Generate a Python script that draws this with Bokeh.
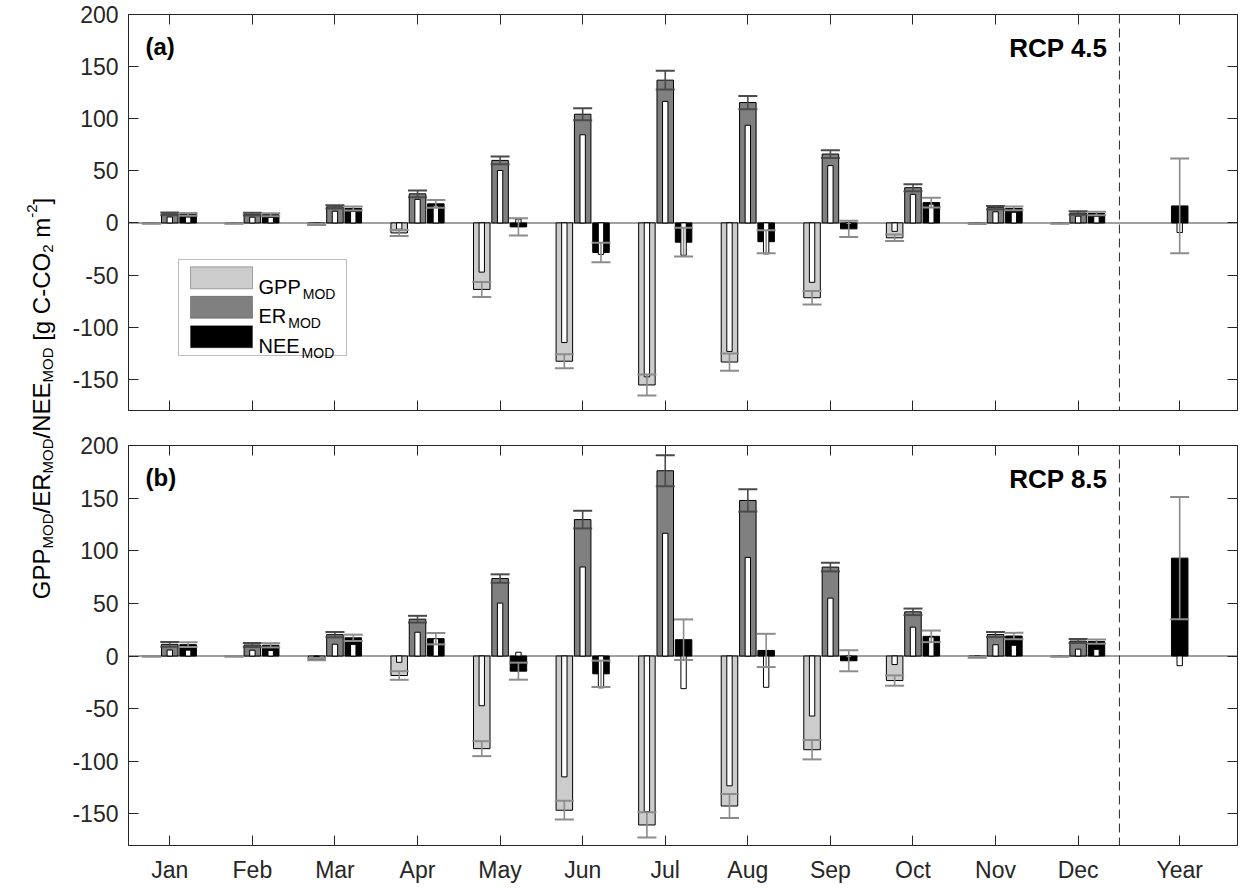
import math
from bokeh.plotting import figure
from bokeh.models import (ColumnDataSource, Range1d, FixedTicker, Whisker, TeeHead,
                          Span, Label, BoxAnnotation, LinearAxis)
from bokeh.layouts import row, column
from bokeh.embed import file_html
from bokeh.resources import INLINE

# ---------------- data ----------------
months = ["Jan", "Feb", "Mar", "Apr", "May", "Jun", "Jul", "Aug", "Sep", "Oct", "Nov", "Dec"]
year_label = "Year"
y_ticks = [-150, -100, -50, 0, 50, 100, 150, 200]

# baseline values (white inner bars), identical in both panels
gpp_base = [-0.2, -0.2, -0.5, -6.0, -47.2, -114.8, -147.7, -123.3, -57.0, -8.1, -0.3, -0.2]
er_base = [5.7, 5.5, 11.2, 22.6, 50.3, 84.6, 116.6, 93.7, 55.0, 27.4, 10.7, 6.5]
nee_base = [5.6, 5.3, 11.0, 16.4, 3.6, -30.2, -31.0, -29.7, -1.5, 18.0, 10.2, 6.4]
nee_base_year = -9.2

# RCP 4.5
rcp45_gpp = [-0.5, -0.5, -1.5, -9.6, -63.8, -132.7, -155.5, -133.5, -71.8, -14.3, -0.7, -0.5]
rcp45_gpp_err = [0.3, 0.3, 0.6, 2.9, 7.2, 6.7, 10.0, 8.3, 6.5, 3.1, 0.4, 0.3]
rcp45_er = [8.7, 8.4, 15.4, 27.9, 60.0, 104.3, 137.0, 115.5, 66.1, 33.8, 14.6, 9.5]
rcp45_er_err = [1.3, 1.3, 1.6, 3.2, 3.7, 5.7, 9.0, 6.4, 3.7, 3.4, 1.7, 1.6]
rcp45_nee = [8.2, 7.9, 13.9, 18.3, -3.8, -28.4, -18.5, -18.0, -5.7, 19.5, 13.9, 9.0]
rcp45_nee_err = [1.4, 1.4, 1.9, 3.7, 8.3, 9.4, 13.8, 11.0, 7.8, 4.6, 1.8, 1.6]
rcp45_year_nee = 16.3
rcp45_year_nee_err = 45.4

# RCP 8.5
rcp85_gpp = [-0.3, -0.3, -3.0, -18.5, -88.0, -146.5, -160.5, -142.5, -89.0, -23.3, -1.2, -0.5]
rcp85_gpp_err = [0.3, 0.3, 1.0, 4.1, 7.1, 8.9, 12.0, 11.4, 9.2, 4.9, 0.5, 0.3]
rcp85_er = [11.1, 10.5, 20.3, 35.0, 73.6, 129.6, 176.0, 147.8, 84.5, 42.0, 20.4, 14.2]
rcp85_er_err = [2.2, 1.9, 2.5, 3.2, 4.0, 8.4, 14.7, 10.6, 4.1, 3.1, 2.4, 1.9]
rcp85_nee = [10.8, 10.2, 17.3, 16.5, -14.4, -16.9, 15.5, 5.3, -4.5, 18.7, 19.0, 13.7]
rcp85_nee_err = [2.2, 2.0, 3.0, 5.4, 8.1, 12.5, 19.3, 15.8, 10.0, 5.5, 3.0, 2.0]
rcp85_year_nee = 93.0
rcp85_year_nee_err = 58.0

# ---------------- style ----------------
FONT = "Liberation Sans"
C_GPP, C_ER, C_NEE = "#cccccc", "#808080", "#000000"
C_ERR_LIGHT, C_ERR_DARK = "#8c8c8c", "#4a4a4a"
AX = "#262626"

LAB_W = 60
month_x = [i + 1 for i in range(len(months))]
year_x = 13.23
OFF = 0.222
BAR_W = 0.2
IN_W = 0.065

# Arial-compatible advance widths (em) for manual sub/superscript layout
CW = {'G': 0.778, 'P': 0.667, 'E': 0.667, 'R': 0.722, 'N': 0.722, 'M': 0.833, 'O': 0.778,
      'D': 0.722, '/': 0.278, ' ': 0.278, '[': 0.278, ']': 0.278, 'g': 0.556, 'C': 0.722,
      '-': 0.333, 'm': 0.833, '2': 0.556}


def tw(s, size):
    return sum(CW.get(c, 0.6) for c in s) * size


def style_axis(ax, labels=True, size="23px", standoff=11):
    ax.major_tick_in = 10
    ax.major_tick_out = 0
    ax.minor_tick_line_color = None
    ax.major_tick_line_color = AX
    ax.axis_line_color = AX
    ax.major_label_text_font = FONT
    if labels:
        ax.major_label_text_color = AX
        ax.major_label_standoff = standoff
        ax.major_label_text_font_size = size
    else:
        ax.major_label_text_color = None
        ax.major_label_standoff = 0
        ax.major_label_text_font_size = "1px"


def make_panel(gpp, gpp_err, er, er_err, nee, nee_err, y_nee, y_err,
               tag, scen, fh, btop, bbot, show_x):
    p = figure(frame_width=1109, frame_height=fh, min_border_left=128 - LAB_W,
               min_border_right=7, min_border_top=btop, min_border_bottom=bbot,
               x_range=Range1d(0.5, 13.93), y_range=Range1d(-180, 200),
               toolbar_location=None, output_backend="svg")
    p.xgrid.visible = False
    p.ygrid.visible = False
    p.outline_line_color = AX
    p.outline_line_width = 1
    p.background_fill_color = "white"
    p.border_fill_color = "white"

    xt = FixedTicker(ticks=month_x + [year_x])
    yt = FixedTicker(ticks=y_ticks)
    overrides = {x: m for x, m in zip(month_x, months)}
    overrides[year_x] = year_label

    p.xaxis.ticker = xt
    p.xaxis.major_label_overrides = overrides
    style_axis(p.xaxis[0], labels=show_x, standoff=11)
    p.yaxis.ticker = yt
    p.yaxis.major_label_overrides = {v: str(v) for v in y_ticks}
    style_axis(p.yaxis[0], labels=True, standoff=10)

    ax_r = LinearAxis(ticker=yt)
    style_axis(ax_r, labels=False)
    p.add_layout(ax_r, "right")
    ax_t = LinearAxis(ticker=xt)
    style_axis(ax_t, labels=False)
    p.add_layout(ax_t, "above")

    p.add_layout(Span(location=0, dimension="width", line_color="#808080",
                      line_width=1.5, level="underlay"))

    xg = [m - OFF for m in month_x]
    xe = list(month_x)
    xn = [m + OFF for m in month_x] + [year_x]
    nee_all = list(nee) + [y_nee]
    nee_err_all = list(nee_err) + [y_err]
    nee_base_all = list(nee_base) + [nee_base_year]

    series = [
        (xg, gpp, gpp_err, gpp_base, C_GPP, C_ERR_LIGHT),
        (xe, er, er_err, er_base, C_ER, C_ERR_DARK),
        (xn, nee_all, nee_err_all, nee_base_all, C_NEE, C_ERR_LIGHT),
    ]
    for xs, vals, errs, base, col, ecol in series:
        src = ColumnDataSource(dict(x=xs, top=vals, base=base,
                                    upper=[v + e for v, e in zip(vals, errs)],
                                    lower=[v - e for v, e in zip(vals, errs)]))
        p.vbar(x="x", top="top", bottom=0, width=BAR_W, source=src,
               fill_color=col, line_color="black", line_width=1)
        p.vbar(x="x", top="base", bottom=0, width=IN_W, source=src,
               fill_color="white", line_color="black", line_width=1)
        p.add_layout(Whisker(source=src, base="x", upper="upper", lower="lower",
                             dimension="height", line_color=ecol, line_width=1.6,
                             level="annotation",
                             upper_head=TeeHead(size=19, line_color=ecol, line_width=2),
                             lower_head=TeeHead(size=19, line_color=ecol, line_width=2)))

    p.add_layout(Span(location=12.5, dimension="height", line_color=AX,
                      line_width=1, line_dash="9 5"))

    p.add_layout(Label(x=17, y=fh - 32, x_units="screen", y_units="screen", text=tag,
                       text_font=FONT, text_font_style="bold", text_font_size="24px",
                       text_baseline="middle", text_align="left", text_color="black"))
    p.add_layout(Label(x=979, y=fh - 33, x_units="screen", y_units="screen", text=scen,
                       text_font=FONT, text_font_style="bold", text_font_size="26px",
                       text_baseline="middle", text_align="right", text_color="black"))
    return p


top = make_panel(rcp45_gpp, rcp45_gpp_err, rcp45_er, rcp45_er_err, rcp45_nee, rcp45_nee_err,
                 rcp45_year_nee, rcp45_year_nee_err, "(a)", "RCP 4.5", 396, 14, 20, False)
bot = make_panel(rcp85_gpp, rcp85_gpp_err, rcp85_er, rcp85_er_err, rcp85_nee, rcp85_nee_err,
                 rcp85_year_nee, rcp85_year_nee_err, "(b)", "RCP 8.5", 400, 15, 43, True)

# ---------------- legend (top panel, screen units) ----------------
top.add_layout(BoxAnnotation(left=50, right=218, top=151, bottom=55,
                             left_units="screen", right_units="screen",
                             top_units="screen", bottom_units="screen",
                             fill_color="white", fill_alpha=1, line_color=AX, line_width=1,
                             level="annotation"))
leg = [("GPP", C_GPP), ("ER", C_ER), ("NEE", C_NEE)]
for i, (name, col) in enumerate(leg):
    cy = 132.7 - i * 29.5
    top.add_layout(BoxAnnotation(left=62, right=124, top=cy + 11, bottom=cy - 11,
                                 left_units="screen", right_units="screen",
                                 top_units="screen", bottom_units="screen",
                                 fill_color=col, fill_alpha=1, line_color="black",
                                 line_width=1, level="annotation"))
    top.add_layout(Label(x=130, y=cy - 8.7, x_units="screen", y_units="screen", text=name,
                         text_font=FONT, text_font_size="20px", text_baseline="alphabetic",
                         text_align="left", text_color="black"))
    top.add_layout(Label(x=130 + tw(name, 20) + 2, y=cy - 15.7, x_units="screen",
                         y_units="screen", text="MOD", text_font=FONT,
                         text_font_size="14px", text_baseline="alphabetic",
                         text_align="left", text_color="black"))

# ---------------- y axis label (separate strip, pixel coordinates) ----------------
lab = figure(width=LAB_W, height=888, x_range=Range1d(0, LAB_W), y_range=Range1d(888, 0),
             min_border=0, x_axis_location=None, y_axis_location=None,
             toolbar_location=None, output_backend="svg")
lab.xgrid.visible = False
lab.ygrid.visible = False
lab.outline_line_color = None
lab.background_fill_color = "white"
lab.border_fill_color = "white"

MAIN, SUB = 24, 15
BASE_X = 41
pieces = [("GPP", MAIN, 0), ("MOD", SUB, 6), ("/ER", MAIN, 0), ("MOD", SUB, 6),
          ("/NEE", MAIN, 0), ("MOD", SUB, 6), (" ", MAIN, 0), ("[g C-CO", MAIN, 0),
          ("2", SUB, 6), (" ", MAIN, 0), ("m", MAIN, 0), ("-2", SUB, -10), ("]", MAIN, 0)]
total = sum(tw(t, s) for t, s, _ in pieces)
ypos = 398 + total / 2
for t, s, dx in pieces:
    if t.strip():
        lab.add_layout(Label(x=BASE_X + dx, y=ypos, text=t, angle=math.pi / 2,
                             text_font=FONT, text_font_size=f"{s}px", text_color="black",
                             text_baseline="alphabetic", text_align="left"))
    ypos -= tw(t, s)

layout = row(lab, column(top, bot))
open("out.html", "w").write(file_html(layout, INLINE))
